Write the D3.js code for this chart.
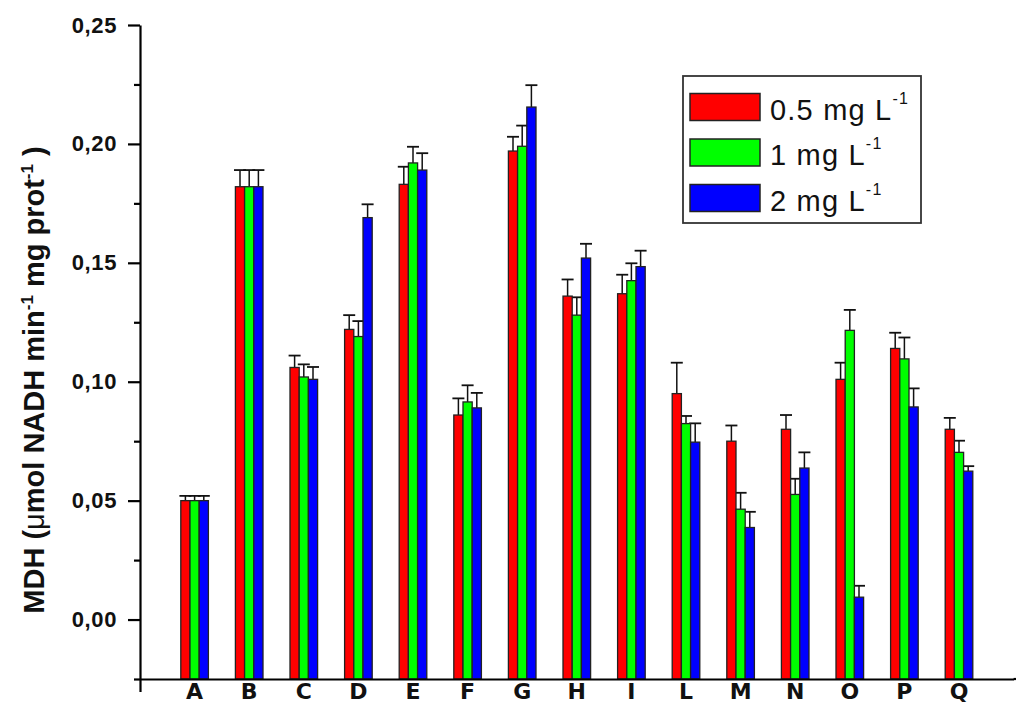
<html>
<head>
<meta http-equiv="content-type" content="text/html; charset=UTF8">
	<title>MDH activity</title>
</head>
<style type="text/css">

body { font-family: "Liberation Sans", Arial; padding: 0; margin: 0; overflow: hidden; background: #fff; }

</style>
<body>

    <div id="chart"></div>

    <script type="text/javascript" src="https://cdnjs.cloudflare.com/ajax/libs/d3/7.8.5/d3.min.js"></script>
    <script type="text/javascript">

    // values
    var categories = ["A", "B", "C", "D", "E", "F", "G", "H", "I", "L", "M", "N", "O", "P", "Q"];
    var seriesNames = ["0.5 mg L", "1 mg L", "2 mg L"];
    var seriesColors = ["#ff0000", "#00ff00", "#0000ff"];

    var c05 = [0.050, 0.182, 0.106, 0.122, 0.183, 0.086, 0.197, 0.136, 0.137, 0.095, 0.075, 0.080, 0.101, 0.114, 0.080];
    var c05err = [0.002, 0.007, 0.005, 0.006, 0.0074, 0.007, 0.006, 0.007, 0.008, 0.013, 0.0066, 0.006, 0.007, 0.0066, 0.0048];
    var c1 = [0.050, 0.182, 0.102, 0.119, 0.192, 0.0915, 0.199, 0.128, 0.1425, 0.0824, 0.0464, 0.0526, 0.1216, 0.1096, 0.0703];
    var c1err = [0.002, 0.007, 0.0053, 0.0065, 0.0068, 0.007, 0.0087, 0.0075, 0.0073, 0.0032, 0.0069, 0.0066, 0.0086, 0.009, 0.0049];
    var c2 = [0.050, 0.182, 0.101, 0.169, 0.189, 0.089, 0.2155, 0.152, 0.1484, 0.0746, 0.0387, 0.0637, 0.0094, 0.0894, 0.0624];
    var c2err = [0.002, 0.007, 0.0052, 0.0056, 0.0071, 0.0063, 0.0092, 0.006, 0.0067, 0.0079, 0.0066, 0.0066, 0.0048, 0.0078, 0.0021];

    var majorTicks = [0, 0.05, 0.10, 0.15, 0.20, 0.25];
    var minorTicks = [-0.025, 0.025, 0.075, 0.125, 0.175, 0.225];

    (function(){
        var width = 1016, height = 705;
        var values = [c05, c1, c2];
        var errors = [c05err, c1err, c2err];

        var svg = d3.select("#chart").append("svg")
            .attr("width", width)
            .attr("height", height);

        // x is in "slots": category i sits at i+1, axis runs 0..16
        var x = d3.scaleLinear().domain([0, 16]).range([140, 1013.6]);
        var y = d3.scaleLinear().domain([-0.025, 0.25]).range([679, 25]);
        var barW = 9.2;

        /*
        * bars + error bars
        */
        var groups = svg.append("g").selectAll("g.cat")
            .data(categories)
            .enter().append("g")
            .attr("class", "cat");

        groups.each(function(c, i){
            var g = d3.select(this);
            values.forEach(function(series, s){
                var cx = x(i + 1) + (s - 1) * barW;
                var v = series[i], e = errors[s][i];
                // error bar (upper only)
                g.append("line")
                    .attr("x1", cx).attr("x2", cx)
                    .attr("y1", y(v)).attr("y2", y(v + e))
                    .attr("stroke", "#111").attr("stroke-width", 1.5);
                g.append("line")
                    .attr("x1", cx - 6).attr("x2", cx + 6)
                    .attr("y1", y(v + e)).attr("y2", y(v + e))
                    .attr("stroke", "#111").attr("stroke-width", 1.8);
            });
        });

        groups.each(function(c, i){
            var g = d3.select(this);
            values.forEach(function(series, s){
                var cx = x(i + 1) + (s - 1) * barW;
                g.append("rect")
                    .attr("x", cx - barW / 2)
                    .attr("y", y(series[i]))
                    .attr("width", barW)
                    .attr("height", y(-0.025) - y(series[i]))
                    .attr("fill", seriesColors[s])
                    .attr("stroke", "#222")
                    .attr("stroke-width", 1.3);
            });
        });

        /*
        * axes
        */
        var yAxis = svg.append("g")
            .attr("transform", "translate(140,0)")
            .call(d3.axisLeft(y).tickValues(majorTicks).tickSize(12).tickSizeOuter(0).tickPadding(11)
                .tickFormat(function(d){ return d3.format(".2f")(d).replace(".", ","); }));
        yAxis.selectAll("text")
            .style("font", "bold 22px 'Liberation Sans', Arial")
            .style("letter-spacing", "0.6px")
            .attr("fill", "#111");

        var yMinor = svg.append("g")
            .attr("transform", "translate(140,0)")
            .call(d3.axisLeft(y).tickValues(minorTicks).tickSize(6).tickSizeOuter(0).tickFormat(""));
        yMinor.select(".domain").remove();

        var xAxis = svg.append("g")
            .attr("transform", "translate(0,679)")
            .call(d3.axisBottom(x).tickValues([0]).tickSize(13).tickSizeOuter(0).tickFormat(""));

        svg.append("line")
            .attr("x1", x(16)).attr("x2", width)
            .attr("y1", 679).attr("y2", 679)
            .attr("stroke", "#000").attr("stroke-width", 2.2);

        svg.selectAll(".domain, .tick line")
            .attr("stroke", "#000")
            .attr("stroke-width", 2.2);

        // category labels
        svg.append("g").selectAll("text")
            .data(categories)
            .enter().append("text")
            .attr("x", function(d, i){ return x(i + 1); })
            .attr("y", 699)
            .attr("text-anchor", "middle")
            .style("font", "bold 22px 'DejaVu Sans', Verdana")
            .attr("fill", "#111")
            .text(function(d){ return d; });

        /*
        * y label
        */
        var yl = svg.append("text")
            .attr("transform", "translate(43.5,380) rotate(-90)")
            .attr("text-anchor", "middle")
            .style("font", "bold 29px 'Liberation Sans', Arial")
            .attr("fill", "#111");
        yl.append("tspan").text("MDH (");
        yl.append("tspan").style("font-weight", "normal").text("\u03bc");
        yl.append("tspan").text("mol NADH min");
        yl.append("tspan").attr("dy", -11).style("font-size", "17px").text("-1");
        yl.append("tspan").attr("dy", 11).text(" mg prot");
        yl.append("tspan").attr("dy", -11).style("font-size", "17px").text("-1");
        yl.append("tspan").attr("dy", 11).text(" )");

        /*
        * legend
        */
        var legend = svg.append("g");
        legend.append("rect")
            .attr("x", 683).attr("y", 76)
            .attr("width", 238).attr("height", 147)
            .attr("fill", "#fff")
            .attr("stroke", "#333")
            .attr("stroke-width", 1.8);

        var items = legend.selectAll("g.item")
            .data(seriesNames)
            .enter().append("g")
            .attr("class", "item")
            .attr("transform", function(d, i){ return "translate(690," + (93.5 + i * 45.5) + ")"; });

        items.append("rect")
            .attr("width", 70).attr("height", 27)
            .attr("fill", function(d, i){ return seriesColors[i]; })
            .attr("stroke", "#222")
            .attr("stroke-width", 1.5);

        var lt = items.append("text")
            .attr("x", 80).attr("y", 26)
            .style("font", "29px 'Liberation Sans', Arial")
            .style("letter-spacing", "1.2px")
            .attr("fill", "#111");
        lt.append("tspan").text(function(d){ return d; });
        lt.append("tspan").attr("dy", -16).style("font-size", "16px").text("-1");

    })();

    </script>
</body>
</html>
